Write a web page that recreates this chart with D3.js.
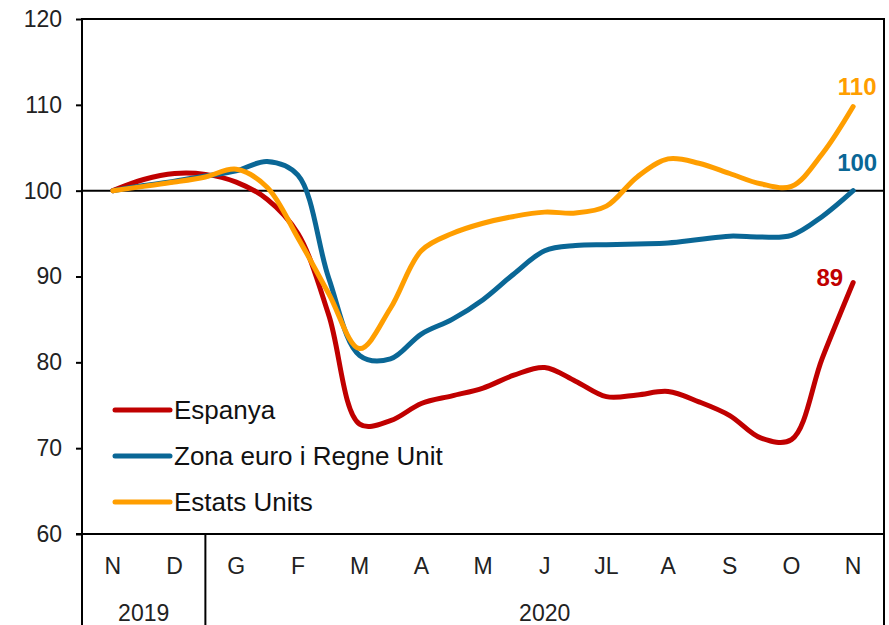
<!DOCTYPE html>
<html><head><meta charset="utf-8">
<script src="https://cdn.jsdelivr.net/npm/d3@7"></script>
<style>body{margin:0;background:#fff}svg{display:block}text{font-family:"Liberation Sans",Arial,sans-serif}</style>
</head><body>
<svg id="c" width="889" height="625"></svg>
<script>
const months = ["N","D","G","F","M","A","M","J","JL","A","S","O","N"];
const years = [{label:"2019", from:0, to:1},{label:"2020", from:2, to:12}];
const yTicks = [60,70,80,90,100,110,120];
// half-month positions (0 = Nov 2019, 12 = Nov 2020)
const pos = d3.range(0, 12.01, 0.5);
const espanya = [100,101.3,102.0,101.9,101.0,99.0,95.0,85.5,72.8,73.2,75.2,76.1,77.0,78.5,79.4,77.8,76.0,76.2,76.6,75.4,73.8,71.2,71.0,80.5,89.3];
const zonaEuro = [100,100.6,101.1,101.7,102.3,103.4,101.8,89.8,80.8,80.4,83.3,85.0,87.3,90.3,93.0,93.6,93.7,93.8,93.9,94.3,94.7,94.6,94.8,97.0,100];
const estatsUnits = [100,100.5,101.0,101.6,102.5,100.4,94.5,88.0,81.6,86.3,93.0,95.0,96.2,97.0,97.5,97.4,98.2,101.6,103.7,103.2,102.0,100.8,100.5,104.3,109.8];
const series = [
  {name:"Espanya", values:espanya, color:"#C00000", end:"89"},
  {name:"Zona euro i Regne Unit", values:zonaEuro, color:"#0A6796", end:"100"},
  {name:"Estats Units", values:estatsUnits, color:"#FF9E00", end:"110"}
];

const svg = d3.select("#c");
const L=82, R=884, T=19, B=534, H=625;
const x = d3.scaleLinear().domain([-0.5, 12.5]).range([L, R]);
const y = d3.scaleLinear().domain([60,120]).range([B, T]);
const fs = 23;

// frame
svg.append("rect").attr("x",L).attr("y",T).attr("width",R-L).attr("height",B-T)
  .attr("fill","none").attr("stroke","#000").attr("stroke-width",2);

// y axis
const ya = svg.append("g").attr("transform",`translate(${L},0)`)
  .call(d3.axisLeft(y).tickValues(yTicks).tickSize(6).tickPadding(14));
ya.select(".domain").remove();
ya.selectAll(".tick line").attr("stroke","#000").attr("stroke-width",2);
ya.selectAll(".tick text").attr("font-size",fs).attr("fill","#222").attr("font-family","Liberation Sans, Arial, sans-serif");

// reference line at 100
svg.append("line").attr("x1",L).attr("x2",R).attr("y1",y(100)).attr("y2",y(100))
  .attr("stroke","#000").attr("stroke-width",2);

// lower category area lines
svg.append("line").attr("x1",L-6).attr("x2",R).attr("y1",B).attr("y2",B).attr("stroke","#000").attr("stroke-width",2);
[L, (x(1)+x(2))/2, R].forEach(xx=>{
  svg.append("line").attr("x1",xx).attr("x2",xx).attr("y1",B).attr("y2",H).attr("stroke","#000").attr("stroke-width",2);
});

// month labels
svg.append("g").selectAll("text").data(months).join("text")
  .attr("x",(d,i)=>x(i)).attr("y",574).attr("text-anchor","middle")
  .attr("font-size",fs).attr("fill","#222").text(d=>d);
// year labels
svg.append("g").selectAll("text").data(years).join("text")
  .attr("x",d=>(x(d.from-0.5)+x(d.to+0.5))/2).attr("y",621).attr("text-anchor","middle")
  .attr("font-size",fs).attr("fill","#222").text(d=>d.label);

// series lines
const line = d3.line().x((d,i)=>x(pos[i])).y(d=>y(d)).curve(d3.curveCatmullRom.alpha(0.5));
svg.append("g").selectAll("path").data(series).join("path")
  .attr("d",d=>line(d.values)).attr("fill","none").attr("stroke",d=>d.color)
  .attr("stroke-width",5).attr("stroke-linecap","round").attr("stroke-linejoin","round");

// end labels
const endPos = [{dx:-10, dy:3, anchor:"end"},{dx:4, dy:-20, anchor:"middle"},{dx:4, dy:-12, anchor:"middle"}];
svg.append("g").selectAll("text").data(series).join("text")
  .attr("x",(d,i)=>x(12)+endPos[i].dx)
  .attr("y",(d,i)=>y(d.values[d.values.length-1])+endPos[i].dy)
  .attr("text-anchor",(d,i)=>endPos[i].anchor)
  .attr("font-size",24).attr("font-weight","bold").attr("fill",d=>d.color).text(d=>d.end);

// legend
const lg = svg.append("g").selectAll("g").data(series).join("g")
  .attr("transform",(d,i)=>`translate(115,${410+i*46})`);
lg.append("line").attr("x1",0).attr("x2",55).attr("y1",0).attr("y2",0)
  .attr("stroke",d=>d.color).attr("stroke-width",5).attr("stroke-linecap","round");
lg.append("text").attr("x",59).attr("y",9).attr("font-size",26).attr("fill","#111").text(d=>d.name);
</script>
</body></html>
